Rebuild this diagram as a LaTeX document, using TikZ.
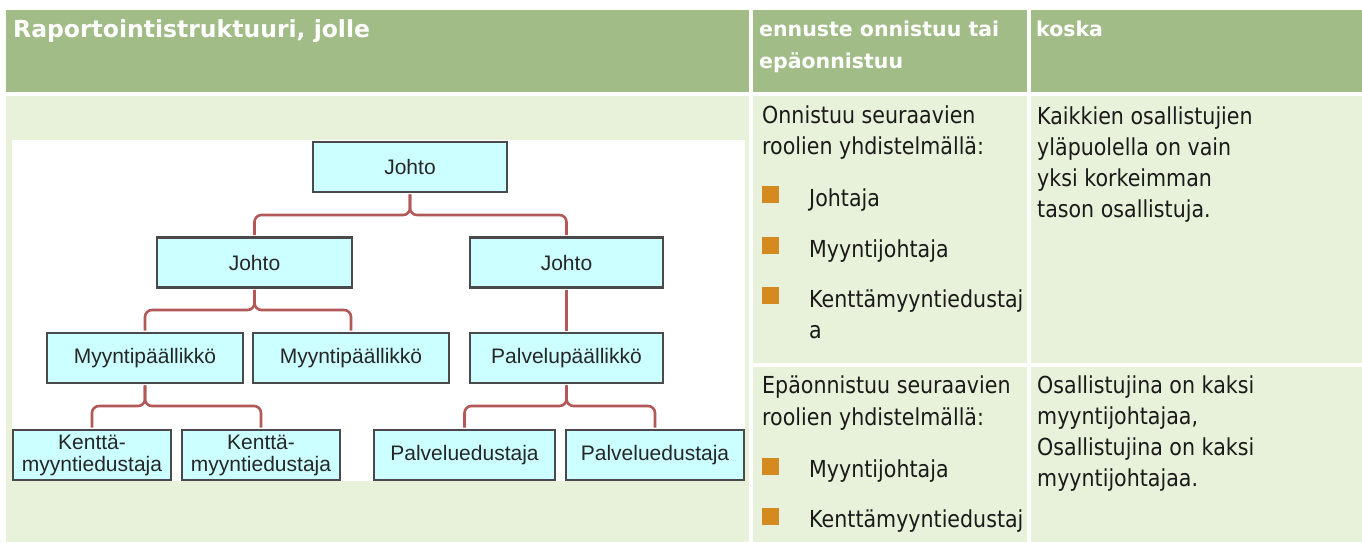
\documentclass[tikz,border=0pt]{standalone}
\usepackage{fontspec}
\newfontfamily\bodyfont{DejaVu Sans}[FakeStretch=0.88]
\newfontfamily\hdrfont{DejaVu Sans Bold}
\newfontfamily\treefont{Liberation Sans}
\definecolor{hdrgreen}{HTML}{A1BC87}
\definecolor{cellgreen}{HTML}{E8F2DA}
\definecolor{boxfill}{HTML}{CCFFFF}
\definecolor{boxline}{HTML}{4A4A4A}
\definecolor{connred}{HTML}{B35858}
\definecolor{bulletorange}{HTML}{D48A1E}
\definecolor{bodyink}{HTML}{1A1A1A}
\tikzset{
  hdrtxt/.style={anchor=base west, inner sep=0pt, text=white, font=\hdrfont\fontsize{20.5}{32}\selectfont},
  hdrbig/.style={hdrtxt, font=\hdrfont\fontsize{23.5}{32}\selectfont},
  bodytxt/.style={anchor=base west, inner sep=0pt, text=bodyink, font=\bodyfont\fontsize{23.4}{31}\selectfont},
  bulletbox/.style={fill=bulletorange, minimum width=17pt, minimum height=17pt, inner sep=0pt, draw=none},
  treebox/.style={draw=boxline, line width=2.4pt, fill=boxfill, inner sep=0pt, minimum height=50pt, align=center, text=black!85, font=\treefont\fontsize{21}{22}\selectfont},
  conn/.style={draw=connred, line width=2.6pt, rounded corners=7pt, shorten <=1.2pt, shorten >=1.2pt}
}
\begin{document}
\begin{tikzpicture}[x=1pt,y=-1pt]
\useasboundingbox (0,0) rectangle (1362,542);
\fill[white] (0,0) rectangle (1362,542);
% table cells
\fill[hdrgreen] (6,10) rectangle (749,92);
\fill[hdrgreen] (753,10) rectangle (1027,92);
\fill[hdrgreen] (1031,10) rectangle (1362,92);
\fill[cellgreen] (6,96) rectangle (749,542);
\fill[cellgreen] (753,96) rectangle (1027,363);
\fill[cellgreen] (1031,96) rectangle (1362,363);
\fill[cellgreen] (753,367) rectangle (1027,542);
\fill[cellgreen] (1031,367) rectangle (1362,542);
\fill[white] (12,140) rectangle (745,481);
% header texts
\node[hdrbig] (h1) at (13,37) {Raportointistruktuuri, jolle};
\node[hdrtxt] (h2a) at (759,36) {ennuste onnistuu tai};
\node[hdrtxt] (h2b) at (759,68) {epäonnistuu};
\node[hdrtxt] (h3) at (1036,36) {koska};
% column 2, row 1
\node[bodytxt] (s1) at (762,123) {Onnistuu seuraavien};
\node[bodytxt] (s2) at (762,154) {roolien yhdistelmällä:};
\node[bulletbox] (b1) at (770.5,194.5) {};
\node[bodytxt] (s3) at (809,206) {Johtaja};
\node[bulletbox] (b2) at (770.5,245.5) {};
\node[bodytxt] (s4) at (809,257) {Myyntijohtaja};
\node[bulletbox] (b3) at (770.5,295.5) {};
\node[bodytxt] (s5) at (809,307) {Kenttämyyntiedustaj};
\node[bodytxt] (s6) at (809,338) {a};
% column 3, row 1
\node[bodytxt] (k1) at (1037,124) {Kaikkien osallistujien};
\node[bodytxt] (k2) at (1037,155) {yläpuolella on vain};
\node[bodytxt] (k3) at (1037,186) {yksi korkeimman};
\node[bodytxt] (k4) at (1037,217) {tason osallistuja.};
% column 2, row 2
\node[bodytxt] (f1) at (762,393) {Epäonnistuu seuraavien};
\node[bodytxt] (f2) at (762,425) {roolien yhdistelmällä:};
\node[bulletbox] (b4) at (770.5,466) {};
\node[bodytxt] (f3) at (809,477) {Myyntijohtaja};
\node[bulletbox] (b5) at (770.5,516) {};
\node[bodytxt] (f4) at (809,527) {Kenttämyyntiedustaj};
% column 3, row 2
\node[bodytxt] (o1) at (1037,393) {Osallistujina on kaksi};
\node[bodytxt] (o2) at (1037,424) {myyntijohtajaa,};
\node[bodytxt] (o3) at (1037,455) {Osallistujina on kaksi};
\node[bodytxt] (o4) at (1037,486) {myyntijohtajaa.};
% tree
\coordinate (lv1) at (0,215);
\coordinate (lv2) at (0,310);
\coordinate (lv3) at (0,406);
\node[treebox, minimum width=194pt] (top) at (410,167) {Johto};
\node[treebox, minimum width=195pt] (j1) at (254.5,262.5) {Johto};
\node[treebox, minimum width=193pt] (j2) at (566.5,262.5) {Johto};
\node[treebox, minimum width=196pt] (m1) at (145,358) {Myyntipäällikkö};
\node[treebox, minimum width=196pt] (m2) at (351,358) {Myyntipäällikkö};
\node[treebox, minimum width=193pt] (pp) at (566.5,358) {Palvelupäällikkö};
\node[treebox, minimum width=158pt] (k1t) at (92,455) {Kenttä-\\myyntiedustaja};
\node[treebox, minimum width=158pt] (k2t) at (261,455) {Kenttä-\\myyntiedustaja};
\node[treebox, minimum width=181pt] (pe1) at (464.5,455) {Palveluedustaja};
\node[treebox, minimum width=178pt] (pe2) at (655,455) {Palveluedustaja};
% connectors
\draw[conn] (top.south) -- (top.south |- lv1) -- (j1.north |- lv1) -- (j1.north);
\draw[conn] (top.south) -- (top.south |- lv1) -- (j2.north |- lv1) -- (j2.north);
\draw[conn] (j1.south) -- (j1.south |- lv2) -- (m1.north |- lv2) -- (m1.north);
\draw[conn] (j1.south) -- (j1.south |- lv2) -- (m2.north |- lv2) -- (m2.north);
\draw[conn] (j2.south) -- (pp.north);
\draw[conn] (m1.south) -- (m1.south |- lv3) -- (k1t.north |- lv3) -- (k1t.north);
\draw[conn] (m1.south) -- (m1.south |- lv3) -- (k2t.north |- lv3) -- (k2t.north);
\draw[conn] (pp.south) -- (pp.south |- lv3) -- (pe1.north |- lv3) -- (pe1.north);
\draw[conn] (pp.south) -- (pp.south |- lv3) -- (pe2.north |- lv3) -- (pe2.north);
\end{tikzpicture}
\end{document}
